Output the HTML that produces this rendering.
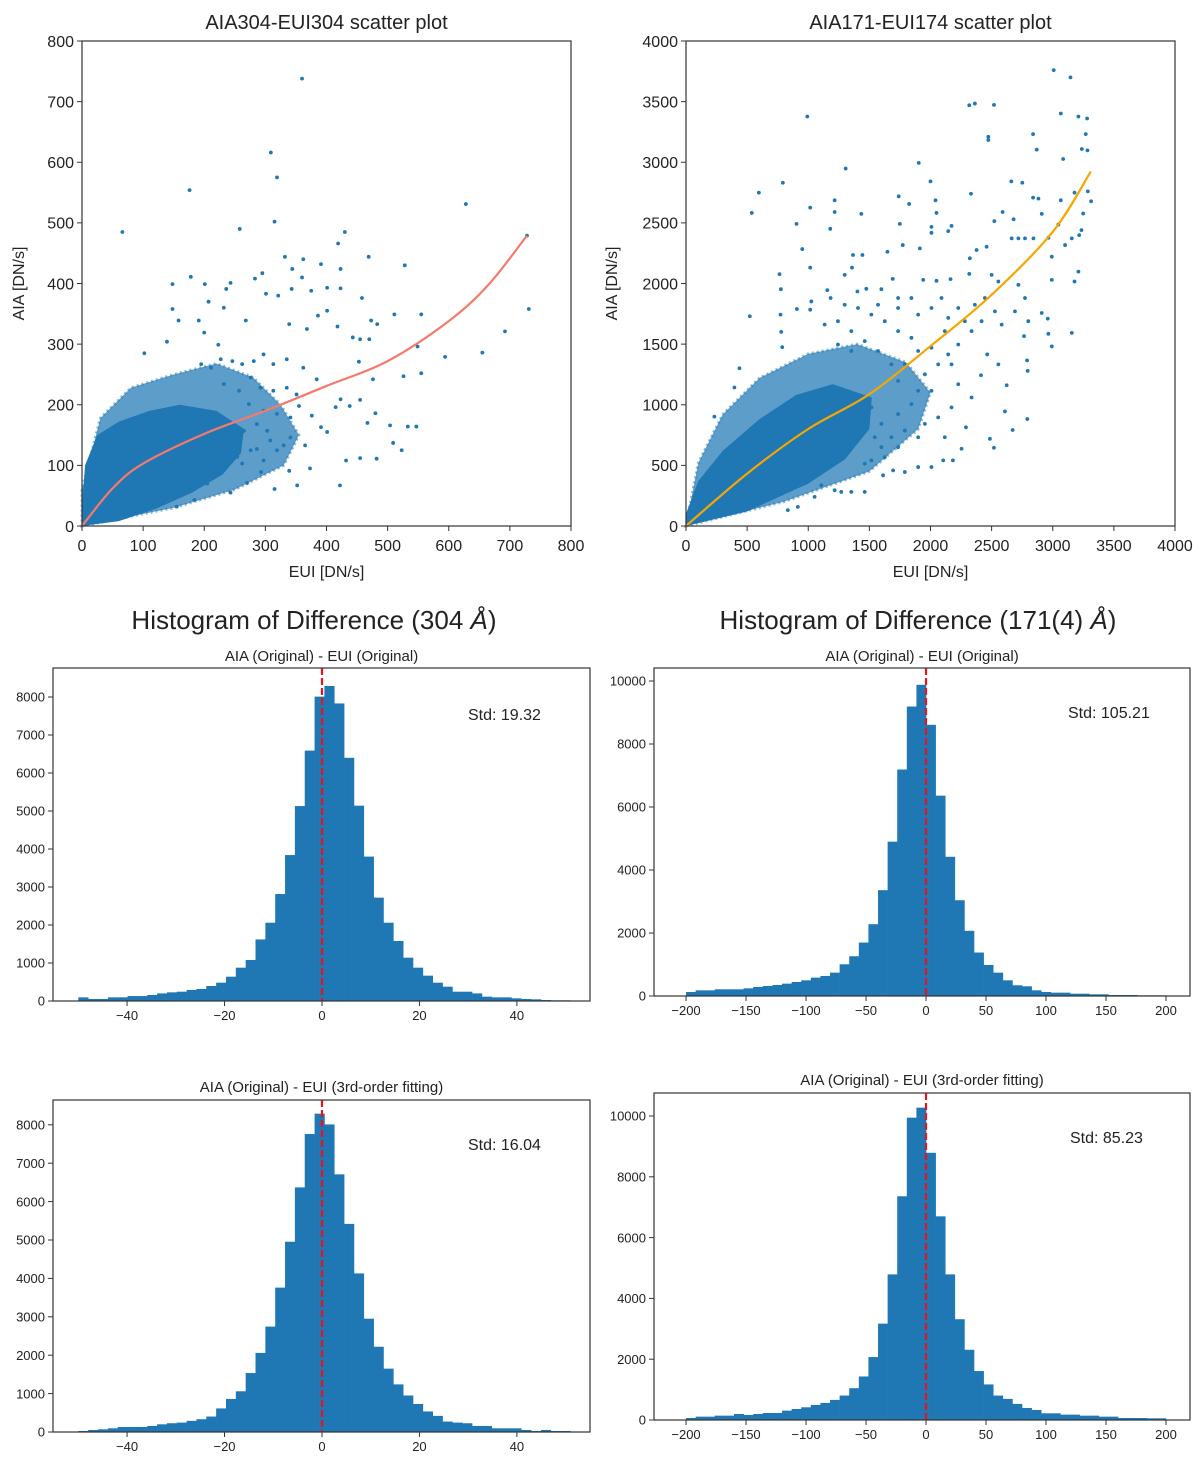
<!DOCTYPE html>
<html><head><meta charset="utf-8"><style>
html,body{margin:0;padding:0;background:#fff;}
svg{display:block;font-family:"Liberation Sans","DejaVu Sans",sans-serif;}
</style></head><body>
<svg id="fig" width="1200" height="1463" viewBox="0 0 1200 1463" xmlns="http://www.w3.org/2000/svg"></svg>
<script>
// ---------- DATA ----------
const s1FitX=[0,50,100,200,300,400,500,600,665,728];
const s1FitY=[0,62,103,152,190,231,272,338,398,479];
const s1Core=[[0,0],[60,8],[120,28],[180,55],[230,85],[260,120],[265,160],[220,190],[160,200],[110,190],[60,172],[25,150],[5,100],[0,30]];
const s1Halo=[[0,0],[150,30],[250,60],[330,100],[355,150],[325,200],[280,245],[220,268],[150,250],[80,228],[30,178],[0,60]];
const s1Pts=[[360,738],[309,616],[319,575],[176,554],[628,531],[315,502],[66,485],[258,490],[430,485],[419,466],[728,479],[332,444],[469,444],[528,430],[362,440],[391,432],[344,424],[423,424],[178,411],[295,417],[283,408],[243,401],[148,399],[201,399],[360,410],[343,391],[401,393],[423,392],[375,388],[236,391],[207,370],[301,383],[321,380],[458,376],[232,360],[148,358],[731,358],[401,355],[511,349],[555,349],[386,347],[692,321],[158,339],[191,339],[268,339],[473,339],[483,333],[418,329],[368,325],[339,333],[200,319],[549,296],[594,279],[655,286],[555,252],[526,247],[443,311],[455,308],[470,308],[139,304],[223,299],[102,285],[453,271],[476,242],[455,208],[480,186],[467,170],[504,166],[533,164],[547,164],[509,137],[523,125],[482,111],[455,112],[422,67],[352,67],[315,61],[243,55],[184,43],[155,32],[438,198],[423,209],[415,196],[391,163],[401,155],[432,108],[373,95],[339,91],[293,89],[270,71],[355,198],[376,182],[341,146],[365,133],[319,125],[330,133],[262,103],[286,127],[308,141],[384,242],[362,261],[335,275],[313,267],[297,283],[281,272],[262,267],[246,272],[227,275],[211,261],[195,267],[276,245],[292,228],[313,223],[335,228],[351,217],[257,223],[232,234],[273,201],[297,190],[319,185],[341,179],[286,168],[303,157],[265,157],[243,141],[276,125],[254,114],[232,103],[222,86],[205,70],[297,108]];

const s2FitX=[0,500,1000,1500,2000,2500,3000,3311];
const s2FitY=[0,432,800,1087,1484,1907,2426,2923];
const s2Core=[[0,0],[500,120],[1000,350],[1300,550],[1500,800],[1520,1060],[1200,1170],[900,1080],[600,880],[300,620],[100,370],[0,100]];
const s2Halo=[[0,0],[800,200],[1500,450],[1900,800],[2000,1100],[1800,1350],[1400,1500],[1000,1420],[600,1220],[300,920],[100,520]];
const s2Pts=[[3008,3760],[3145,3700],[992,3377],[2317,3470],[2363,3484],[2519,3473],[3066,3402],[3210,3377],[3281,3361],[2473,3210],[2473,3183],[2839,3232],[3270,3232],[2869,3104],[3238,3109],[3284,3098],[3085,3027],[1904,2995],[1306,2948],[792,2831],[2000,2842],[2661,2842],[2751,2831],[596,2749],[2331,2740],[3287,2760],[538,2582],[1016,2626],[1216,2686],[1216,2590],[1434,2574],[1740,2719],[1825,2656],[2041,2686],[2049,2582],[2839,2708],[2883,2700],[3066,2686],[3178,2749],[3249,2577],[3314,2678],[2522,2514],[2590,2590],[904,2492],[1180,2451],[1749,2492],[2008,2467],[2008,2418],[2172,2475],[2145,2432],[2680,2530],[2910,2574],[2964,2377],[3046,2486],[3101,2317],[3156,2372],[3216,2399],[3235,2440],[2664,2372],[2719,2372],[2773,2372],[2842,2372],[2992,2221],[3210,2098],[3178,2016],[3156,1593],[2992,2030],[2910,1757],[2959,1710],[2964,1585],[2992,1481],[2790,1366],[2765,1566],[2795,1279],[2792,882],[2672,792],[2486,719],[2519,645],[2609,945],[2623,1161],[2555,1333],[2464,1415],[2413,1243],[2336,1060],[2290,814],[2254,637],[2104,541],[2183,541],[2008,486],[1899,486],[1790,445],[1694,459],[1612,418],[765,2077],[776,1953],[773,1743],[779,1601],[787,1475],[522,1730],[396,1142],[232,902],[437,1301],[951,2284],[1016,2131],[1366,2235],[1443,2235],[1358,2131],[1298,2071],[1156,1945],[1183,1880],[1025,1852],[907,1790],[1016,1784],[1648,2262],[1691,2038],[1773,2317],[1913,2290],[1940,2030],[2049,2022],[2164,2036],[2317,2079],[2322,2208],[2377,2276],[2459,2303],[1402,1934],[1475,1956],[1598,1953],[1735,1798],[1844,1880],[1899,1743],[2008,1798],[2090,1880],[2145,1716],[2227,1798],[2281,1689],[2363,1825],[2445,1880],[2527,1770],[2582,1661],[2691,1770],[2800,1689],[2719,1989],[2773,1880],[2555,2016],[2500,2071],[2336,1607],[2227,1497],[2145,1415],[2063,1333],[1954,1251],[1899,1115],[2008,1115],[1844,1005],[1735,923],[1790,787],[1680,732],[1598,650],[1516,541],[1462,281],[1352,281],[1270,281],[1216,295],[1107,336],[1052,240],[915,158],[833,131],[2172,1333],[2227,1169],[2172,978],[2063,896],[2117,732],[1954,842],[1899,732],[1735,650],[1626,568],[1544,732],[1462,514],[1598,842],[1516,978],[1735,1197],[1680,1333],[1571,1443],[1462,1525],[1352,1607],[1243,1689],[1134,1661],[1352,1443],[1243,1497],[1735,1607],[1844,1552],[1899,1443],[2008,1470],[1626,1689],[1516,1743],[1407,1798],[1298,1825],[1571,1825],[1735,1880],[1790,1333],[2117,1607],[2418,1689]];

const h1Counts=[96,53,53,96,96,130,130,158,200,228,245,290,316,395,482,640,877,1080,1620,2060,2815,3840,5130,6590,8010,8290,7830,6400,5140,3800,2720,2060,1580,1140,877,667,482,377,245,245,200,114,96,96,70,53,44,26,18,18];
const h2Counts=[127,180,180,212,212,212,244,286,318,350,392,445,498,583,636,742,1007,1262,1697,2280,3360,4900,7190,9190,9880,8610,6360,4420,3040,2070,1380,986,742,498,340,308,180,127,106,106,74,74,53,53,32,32,32,21,21,21];
const h3Counts=[26,53,70,96,130,130,130,158,200,228,245,290,333,403,614,860,1060,1535,2060,2745,3760,4955,6370,7760,8290,8010,6710,5420,4130,2950,2220,1650,1240,950,730,535,420,272,245,228,158,158,96,96,96,53,26,53,26,26];
const h4Counts=[66,110,110,143,143,198,165,198,231,231,308,363,418,495,562,661,804,1046,1432,2070,3170,4790,7360,9945,10275,8790,6700,4790,3315,2310,1610,1170,804,694,529,396,330,220,220,176,176,143,143,110,110,66,66,66,55,55];
const hLeftXTicks=[-40,-20,0,20,40];
const hRightXTicks=[-200,-150,-100,-50,0,50,100,150,200];
const hLeftYTicks=[0,1000,2000,3000,4000,5000,6000,7000,8000];
const hRightYTicks=[0,2000,4000,6000,8000,10000];
const sLeftTicks=[0,100,200,300,400,500,600,700,800];
const sRightTicks=[0,500,1000,1500,2000,2500,3000,3500,4000];

// ---------- HELPERS ----------
const NS='http://www.w3.org/2000/svg';
const svg=document.getElementById('fig');
function mk(tag,attrs,parent){const e=document.createElementNS(NS,tag);for(const k in attrs)e.setAttribute(k,attrs[k]);(parent||svg).appendChild(e);return e;}
function txt(s,x,y,size,anchor,parent,extra){const t=mk('text',Object.assign({x:x,y:y,'font-size':size,'text-anchor':anchor||'middle',fill:'#222'},extra||{}),parent);t.textContent=s;return t;}
function lin(d0,d1,p0,p1){return v=>p0+(v-d0)/(d1-d0)*(p1-p0);}
function smoothPath(P){
  let d='M'+P[0][0]+','+P[0][1];
  for(let i=0;i<P.length-1;i++){
    const p0=P[Math.max(0,i-1)],p1=P[i],p2=P[i+1],p3=P[Math.min(P.length-1,i+2)];
    const c1=[p1[0]+(p2[0]-p0[0])/6,p1[1]+(p2[1]-p0[1])/6];
    const c2=[p2[0]-(p3[0]-p1[0])/6,p2[1]-(p3[1]-p1[1])/6];
    d+=' C'+c1[0]+','+c1[1]+' '+c2[0]+','+c2[1]+' '+p2[0]+','+p2[1];
  }
  return d;
}

function axesFrame(g,L,T,R,B){
  const r=mk('rect',{x:L,y:T,width:R-L,height:B-T,fill:'none',stroke:'#333','stroke-width':1.2},g);
  
  
}
function xTicks(g,ticks,sx,B,size,dy){
  ticks.forEach(v=>{const x=sx(v);
    mk('line',{x1:x,y1:B,x2:x,y2:B+5,stroke:'#333','stroke-width':1},g);
    const t=txt(v<0?'\u2212'+(-v):String(v),x,B+dy,size,'middle',g);
    
    });
}
function yTicks(g,ticks,sy,L,size){
  ticks.forEach(v=>{const y=sy(v);
    mk('line',{x1:L-5,y1:y,x2:L,y2:y,stroke:'#333','stroke-width':1},g);
    const t=txt(String(v),L-8,y+size*0.36,size,'end',g);
    
    });
}

function scatter(name,L,T,R,B,dmax,core,halo,pts,fx,fy,color,ticks,title,ylabX){
  const g=mk('g',{});
  
  
  const sx=lin(0,dmax,L,R), sy=lin(0,dmax,B,T);
  const hp=mk('polygon',{points:halo.map(p=>sx(p[0])+','+sy(p[1])).join(' '),fill:'#1f77b4','fill-opacity':0.72,stroke:'#1f77b4','stroke-opacity':0.5,'stroke-width':3,'stroke-dasharray':'2,3'},g);
  
  
  const cp=mk('polygon',{points:core.map(p=>sx(p[0])+','+sy(p[1])).join(' '),fill:'#1f77b4'},g);
  
  
  pts.forEach(p=>{const c=mk('circle',{cx:sx(p[0]),cy:sy(p[1]),r:1.9,fill:'#1f77b4'},g);
    
    });
  const fl=mk('path',{d:smoothPath(fx.map((v,i)=>[sx(v),sy(fy[i])])),fill:'none',stroke:color,'stroke-width':2.2,'stroke-linejoin':'round'},g);
  
  
  axesFrame(g,L,T,R,B);
  xTicks(g,ticks,sx,B,16,25);
  yTicks(g,ticks,sy,L,16);
  const tt=txt(title,(L+R)/2,29,20,'middle',g);
  
  
  const xl=txt('EUI [DN/s]',(L+R)/2,577,16,'middle',g);
  
  
  const yl=txt('AIA [DN/s]',0,0,16,'middle',g,{transform:'translate('+ylabX+','+((T+B)/2)+') rotate(-90)'});
  
  
}

function hist(name,L,T,R,B,xmin,xmax,ymax,binStart,binWidth,counts,xt,yt,sub,subY,std,stdX,stdY){
  const g=mk('g',{});
  
  
  const sx=lin(xmin,xmax,L,R), sy=lin(0,ymax,B,T);
  counts.forEach((c,i)=>{const x0=sx(binStart+i*binWidth),x1=sx(binStart+(i+1)*binWidth);
    const r=mk('rect',{x:x0,y:sy(c),width:x1-x0+0.3,height:B-sy(c),fill:'#1f77b4'},g);
    
    });
  const dl=mk('line',{x1:sx(0),y1:T,x2:sx(0),y2:B,stroke:'#e8141c','stroke-width':2.2,'stroke-dasharray':'7,3'},g);
  
  
  axesFrame(g,L,T,R,B);
  xTicks(g,xt,sx,B,13,19);
  yTicks(g,yt,sy,L,13);
  const st=txt(sub,(L+R)/2,subY,15,'middle',g);
  
  
  const sd=txt(std,stdX,stdY,16,'start',g);
  
  
}

// ---------- DRAW ----------
scatter('scatter-304',82,41,571,526,800,s1Core,s1Halo,s1Pts,s1FitX,s1FitY,'#f47a6c',sLeftTicks,'AIA304-EUI304 scatter plot',24);
scatter('scatter-171',686,41,1175,526,4000,s2Core,s2Halo,s2Pts,s2FitX,s2FitY,'#f5a700',sRightTicks,'AIA171-EUI174 scatter plot',617);

const t1=txt('',314,629,26,'middle');
t1.innerHTML='Histogram of Difference (304 <tspan font-style="italic">Å</tspan>)';


const t2=txt('',918,629,26,'middle');
t2.innerHTML='Histogram of Difference (171(4) <tspan font-style="italic">Å</tspan>)';



hist('hist-304-original',53,668,590,1001,-55.2,55,8763,-50,2.02,h1Counts,hLeftXTicks,hLeftYTicks,'AIA (Original) - EUI (Original)',661,'Std: 19.32',468,720);
hist('hist-171-original',654,668,1190,996,-226.7,220,10413,-200,8,h2Counts,hRightXTicks,hRightYTicks,'AIA (Original) - EUI (Original)',661,'Std: 105.21',1068,718);
hist('hist-304-fit',53,1100,590,1432,-55.2,55,8646,-50,2.02,h3Counts,hLeftXTicks,hLeftYTicks,'AIA (Original) - EUI (3rd-order fitting)',1092,'Std: 16.04',468,1150);
hist('hist-171-fit',654,1093,1190,1420,-226.7,220,10757,-200,8,h4Counts,hRightXTicks,hRightYTicks,'AIA (Original) - EUI (3rd-order fitting)',1085,'Std: 85.23',1070,1143);
</script>
</body></html>
